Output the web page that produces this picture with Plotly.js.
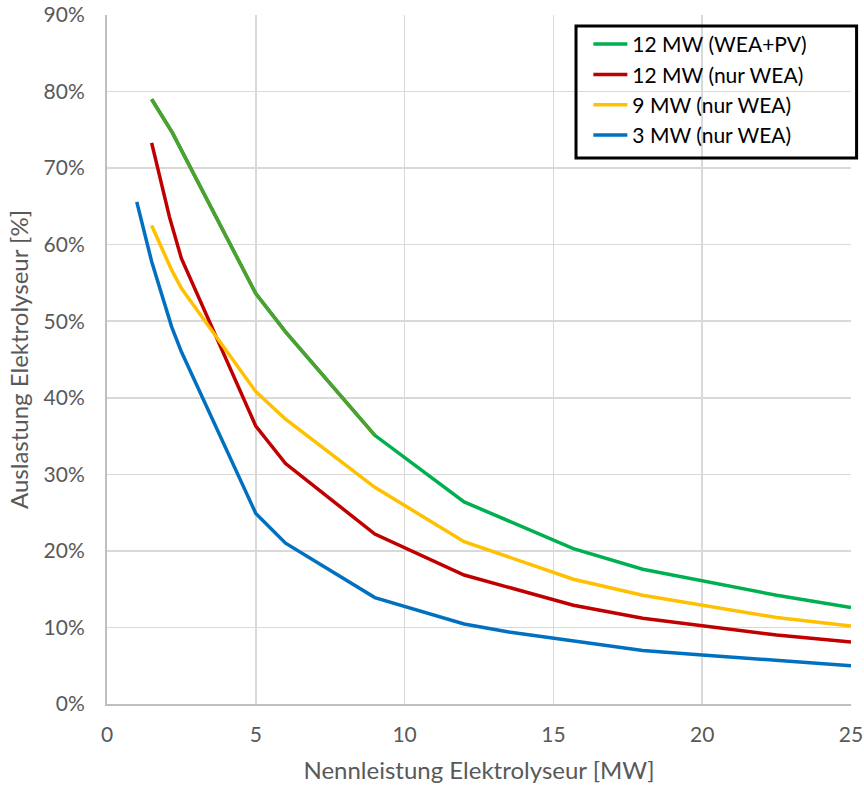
<!DOCTYPE html>
<html>
<head>
<meta charset="utf-8">
<script src="https://cdn.plot.ly/plotly-3.0.1.min.js"></script>
<style>html,body{margin:0;padding:0;background:#fff;}#chart{width:864px;height:788px;}</style>
</head>
<body>
<div id="chart"></div>
<script>
// Data (x: Nennleistung Elektrolyseur [MW], y: Auslastung [%])
const greenX = [1.5, 2.2, 5, 6, 9, 12, 15.67, 18, 22.5, 25];
const greenY = [79.0, 74.6, 53.6, 48.6, 35.1, 26.4, 20.3, 17.6, 14.2, 12.6];
const redX = [1.5, 2.1, 2.5, 5, 6, 9, 12, 15.67, 18, 22.5, 25];
const redY = [73.3, 63.6, 58.2, 36.3, 31.4, 22.2, 16.85, 12.9, 11.2, 9.0, 8.1];
const yellowX = [1.5, 2.17, 2.5, 5, 6, 9, 12, 15.67, 18, 22.5, 25];
const yellowY = [62.5, 56.7, 54.3, 40.8, 37.2, 28.3, 21.2, 16.3, 14.2, 11.3, 10.2];
const blueX = [1, 1.5, 2.17, 2.5, 5, 6, 9, 12, 13.5, 15, 18, 20, 22.5, 25];
const blueY = [65.6, 57.8, 49.3, 46.0, 24.9, 21.0, 13.9, 10.45, 9.4, 8.6, 7.0, 6.4, 5.7, 5.0];
const seriesNames = ["12 MW (WEA+PV)", "12 MW (nur WEA)", "9 MW (nur WEA)", "3 MW (nur WEA)"];
const xTicks = [0, 5, 10, 15, 20, 25];
const yTicks = [0, 10, 20, 30, 40, 50, 60, 70, 80, 90];
const yTickLabels = yTicks.map(v => v + "%");

const oliveX = greenX.filter(x => x <= 9);
const oliveY = greenY.slice(0, oliveX.length);

const lw = 3.5;
const traces = [
  {x: greenX, y: greenY, name: seriesNames[0], mode: "lines", line: {color: "#00B050", width: lw}},
  {x: oliveX, y: oliveY, name: "", showlegend: false, hoverinfo: "skip", mode: "lines", line: {color: "#4EA02F", width: lw}},
  {x: redX, y: redY, name: seriesNames[1], mode: "lines", line: {color: "#C00000", width: lw}},
  {x: yellowX, y: yellowY, name: seriesNames[2], mode: "lines", line: {color: "#FFC000", width: lw}},
  {x: blueX, y: blueY, name: seriesNames[3], mode: "lines", line: {color: "#0070C0", width: lw}}
];
const fontFam = "Lato, 'Open Sans', sans-serif";
const layout = {
  width: 864, height: 788,
  margin: {l: 107, r: 13, t: 15, b: 84},
  paper_bgcolor: "#ffffff", plot_bgcolor: "#ffffff",
  font: {family: fontFam, color: "#595959", size: 21},
  showlegend: true,
  legend: {
    x: 0.647, y: 0.987, xanchor: "left", yanchor: "top",
    borderwidth: 0, bgcolor: "rgba(0,0,0,0)",
    font: {family: fontFam, color: "#000000", size: 21},
    tracegroupgap: 0, itemwidth: 34
  },
  shapes: [{
    type: "rect", xref: "paper", yref: "paper",
    x0: 0.6304, x1: 1.0075, y0: 0.7925, y1: 0.984,
    line: {color: "#000000", width: 3}, fillcolor: "rgba(0,0,0,0)", layer: "above"
  }],
  xaxis: {
    range: [0, 25], tickvals: xTicks, ticktext: xTicks.map(String),
    showgrid: true, gridcolor: "#D9D9D9", gridwidth: 1.5,
    zeroline: false, showline: true, linecolor: "#BFBFBF", linewidth: 2,
    ticks: "outside", ticklen: 11, tickcolor: "rgba(0,0,0,0)",
    tickfont: {size: 21, color: "#595959"},
    title: {text: "Nennleistung Elektrolyseur [MW]", font: {size: 24, color: "#595959"}, standoff: 17}
  },
  yaxis: {
    range: [0, 90], tickvals: yTicks, ticktext: yTickLabels,
    showgrid: true, gridcolor: "#D9D9D9", gridwidth: 1.5,
    zeroline: false, showline: true, linecolor: "#BFBFBF", linewidth: 2,
    ticks: "outside", ticklen: 16, tickcolor: "rgba(0,0,0,0)",
    tickfont: {size: 21, color: "#595959"},
    title: {text: "Auslastung Elektrolyseur [%]", font: {size: 24, color: "#595959"}, standoff: 8}
  }
};
Plotly.newPlot("chart", traces, layout, {displayModeBar: false, staticPlot: true});
</script>
</body>
</html>
